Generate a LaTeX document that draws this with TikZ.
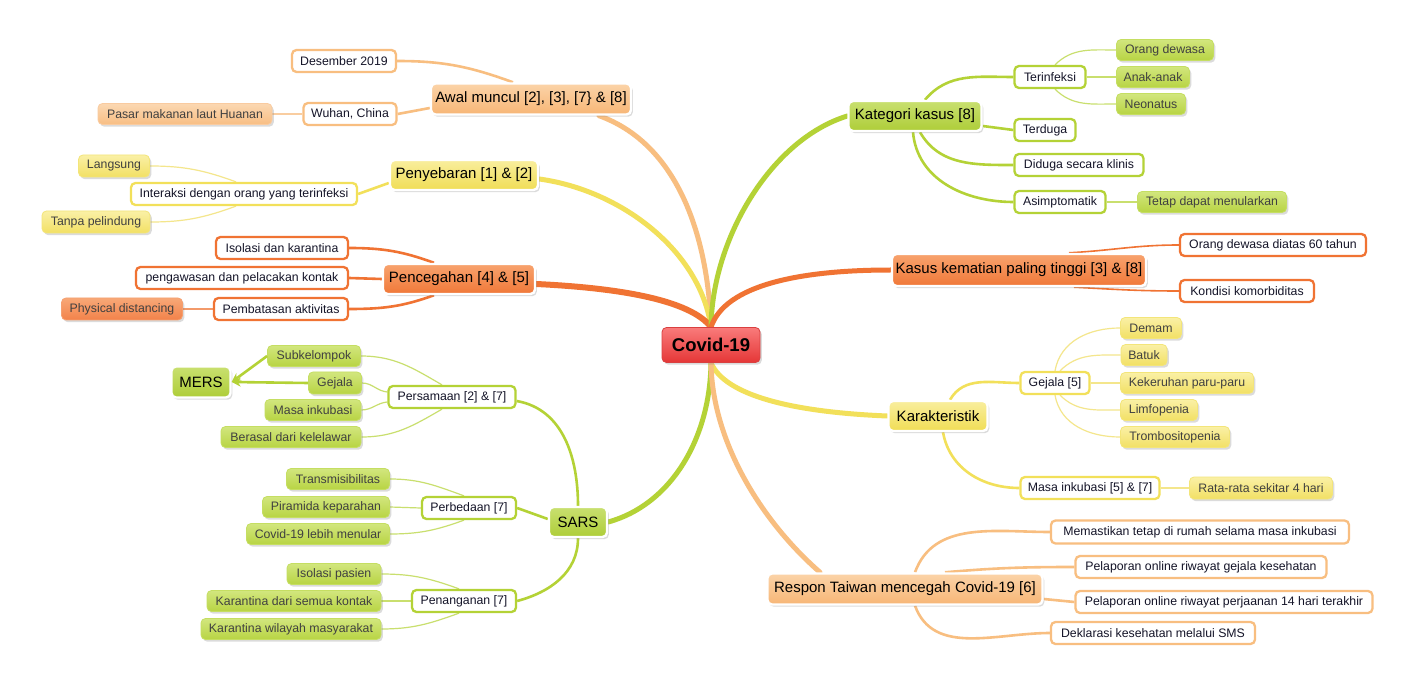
\documentclass[tikz,border=0pt]{standalone}
\usepackage{fontspec}
\setmainfont{Liberation Sans}
\usetikzlibrary{shadows,arrows.meta,calc}
\pgfdeclarelayer{back}
\pgfdeclarelayer{bg}
\pgfsetlayers{back,bg,main}
\definecolor{cG}{HTML}{B4D236}
\definecolor{cGl}{HTML}{C9DF6E}
\definecolor{cY}{HTML}{F2E05A}
\definecolor{cYl}{HTML}{F4E68C}
\definecolor{cO}{HTML}{F07333}
\definecolor{cOl}{HTML}{F39A6A}
\definecolor{cL}{HTML}{F8BE80}
\definecolor{cLl}{HTML}{F9CDA0}
\definecolor{txtA}{HTML}{141428}
\definecolor{txtB}{HTML}{404040}
\definecolor{gAt}{HTML}{C9E070}\definecolor{gAb}{HTML}{AECD38}
\definecolor{yAt}{HTML}{F9EE9E}\definecolor{yAb}{HTML}{F0DD55}
\definecolor{oAt}{HTML}{F8A36E}\definecolor{oAb}{HTML}{F07838}
\definecolor{lAt}{HTML}{FBD3A8}\definecolor{lAb}{HTML}{F7B676}
\definecolor{rAt}{HTML}{F97B7B}\definecolor{rAb}{HTML}{E53636}\definecolor{rAd}{HTML}{D94040}
\definecolor{gCt}{HTML}{D2E67E}\definecolor{gCb}{HTML}{B8D443}\definecolor{gCd}{HTML}{C5DE62}
\definecolor{yCt}{HTML}{FAF0A6}\definecolor{yCb}{HTML}{F2E064}\definecolor{yCd}{HTML}{F3E57A}
\definecolor{oCt}{HTML}{F8A877}\definecolor{oCb}{HTML}{F2824A}\definecolor{oCd}{HTML}{F5A070}
\definecolor{lCt}{HTML}{FBD8B2}\definecolor{lCb}{HTML}{F8BE84}\definecolor{lCd}{HTML}{F9CBA0}
\tikzset{
  box/.style={rounded corners=4.5pt, inner sep=0pt, align=center},
  shd/.style={drop shadow={opacity=0.28, shadow xshift=1.8pt, shadow yshift=-2.2pt}},
  L1/.style={box, shd, draw=white, line width=2.4pt, text=black, font=\fontsize{15}{17}\selectfont},
  L2/.style={box, fill=white, draw=#1, line width=2.3pt, text=txtA, font=\fontsize{12.3}{14}\selectfont},
  L3/.style={box, shd, line width=0.8pt, text=txtB, font=\fontsize{12.3}{14}\selectfont},
  gA/.style={L1, top color=gAt, bottom color=gAb},
  yA/.style={L1, top color=yAt, bottom color=yAb},
  oA/.style={L1, top color=oAt, bottom color=oAb},
  lA/.style={L1, top color=lAt, bottom color=lAb},
  gC/.style={L3, top color=gCt, bottom color=gCb, draw=gCd},
  yC/.style={L3, top color=yCt, bottom color=yCb, draw=yCd},
  oC/.style={L3, top color=oCt, bottom color=oCb, draw=oCd},
  lC/.style={L3, top color=lCt, bottom color=lCb, draw=lCd},
  mainln/.style={line width=5pt, line cap=round},
  subln/.style={line width=2.6pt},
  leafln/.style={line width=1.2pt},
  sz/.style 2 args={minimum width=#1pt, minimum height=#2pt},
}
\begin{document}
\begin{tikzpicture}[x=1pt,y=-1pt]
\begin{pgfonlayer}{back}
\fill[white] (0,0) rectangle (1411,684);
\end{pgfonlayer}
\useasboundingbox (0,0) rectangle (1411,684);
% center
\node[box, shd, top color=rAt, bottom color=rAb, draw=rAd, line width=0.8pt, sz={98}{35}, font=\fontsize{18.5}{20}\bfseries] (covid) at (711,345) {Covid-19};
% level 1
\node[lA, sz={200}{31}] (awal) at (531,99) {Awal muncul [2], [3], [7\} \& [8]};
\node[yA, sz={148}{30}] (peny) at (464,175) {Penyebaran [1] \& [2]};
\node[oA, sz={152}{30}] (penc) at (459,279) {Pencegahan [4] \& [5]};
\node[gA, sz={59}{31}] (mers) at (201,382) {MERS};
\node[gA, sz={58}{30}] (sars) at (578,522) {SARS};
\node[gA, sz={133}{30}] (kat) at (915,116) {Kategori kasus [8]};
\node[oA, sz={254}{32}] (kasus) at (1019,270) {Kasus kematian paling tinggi [3] \& [8]};
\node[yA, sz={99}{30}] (karak) at (938,416) {Karakteristik};
\node[lA, sz={275}{31}] (respon) at (905,589) {Respon Taiwan mencegah Covid-19 [6]};
% level 2
\node[L2=cL, sz={104}{22}] (des) at (344,61) {Desember 2019};
\node[L2=cL, sz={93}{22}] (wuh) at (350,114) {Wuhan, China};
\node[L2=cY, sz={226}{22}] (inter) at (244,194) {Interaksi dengan orang yang terinfeksi};
\node[L2=cO, sz={132}{22}] (iso) at (282,248) {Isolasi dan karantina};
\node[L2=cO, sz={212}{22}] (pgw) at (242,278) {pengawasan dan pelacakan kontak};
\node[L2=cO, sz={134}{22}] (pmb) at (281,309) {Pembatasan aktivitas};
\node[L2=cG, sz={127}{22}] (psm) at (452,397) {Persamaan [2] \& [7]};
\node[L2=cG, sz={94}{22}] (pbd) at (469,508) {Perbedaan [7]};
\node[L2=cG, sz={104}{22}] (png) at (464,601) {Penanganan [7]};
\node[L2=cG, sz={71}{22}] (terinf) at (1050,77) {Terinfeksi};
\node[L2=cG, sz={61}{22}] (terd) at (1045,130) {Terduga};
\node[L2=cG, sz={129}{22}] (didu) at (1079,165) {Diduga secara klinis};
\node[L2=cG, sz={91}{22}] (asim) at (1060,202) {Asimptomatik};
\node[L2=cO, sz={186}{22}] (od60) at (1273,245) {Orang dewasa diatas 60 tahun};
\node[L2=cO, sz={134}{22}] (komor) at (1247,291) {Kondisi komorbiditas};
\node[L2=cY, sz={69}{22}] (gej5) at (1055,383) {Gejala [5]};
\node[L2=cY, sz={139}{22}] (masa57) at (1090,488) {Masa inkubasi [5] \& [7]};
\node[L2=cL, sz={298}{23}] (mem) at (1200,532) {Memastikan tetap di rumah selama masa inkubasi};
\node[L2=cL, sz={251}{22}] (pgej) at (1201,567) {Pelaporan online riwayat gejala kesehatan};
\node[L2=cL, sz={297}{22}] (pperj) at (1224,602) {Pelaporan online riwayat perjaanan 14 hari terakhir};
\node[L2=cL, sz={204}{22}] (dekl) at (1153,633) {Deklarasi kesehatan melalui SMS};
% level 3
\node[lC, sz={174}{21}] (pasar) at (185,114) {Pasar makanan laut Huanan};
\node[yC, sz={71}{22}] (lang) at (114,166) {Langsung};
\node[yC, sz={108}{22}] (tanpa) at (96,222) {Tanpa pelindung};
\node[oC, sz={121}{22}] (phys) at (122,309) {Physical distancing};
\node[gC, sz={93}{21}] (subk) at (314,356) {Subkelompok};
\node[gC, sz={53}{22}] (gejm) at (335,383) {Gejala};
\node[gC, sz={96}{21}] (masam) at (313,410) {Masa inkubasi};
\node[gC, sz={140}{21}] (beras) at (291,437) {Berasal dari kelelawar};
\node[gC, sz={103}{21}] (trans) at (338,479) {Transmisibilitas};
\node[gC, sz={127}{21}] (pira) at (326,507) {Piramida keparahan};
\node[gC, sz={143}{21}] (covm) at (318,534) {Covid-19 lebih menular};
\node[gC, sz={94}{21}] (isop) at (334,574) {Isolasi pasien};
\node[gC, sz={174}{21}] (kdsk) at (294,601) {Karantina dari semua kontak};
\node[gC, sz={180}{21}] (kwm) at (291,629) {Karantina wilayah masyarakat};
\node[gC, sz={97}{21}] (odw) at (1165,50) {Orang dewasa};
\node[gC, sz={73}{21}] (anak) at (1153,77) {Anak-anak};
\node[gC, sz={69}{21}] (neo) at (1151,104) {Neonatus};
\node[gC, sz={149}{21}] (tetap) at (1212,202) {Tetap dapat menularkan};
\node[yC, sz={61}{21}] (demam) at (1151,328) {Demam};
\node[yC, sz={46}{21}] (batuk) at (1144,355) {Batuk};
\node[yC, sz={133}{21}] (kek) at (1187,383) {Kekeruhan paru-paru};
\node[yC, sz={77}{21}] (limf) at (1159,410) {Limfopenia};
\node[yC, sz={109}{21}] (tromb) at (1175,437) {Trombositopenia};
\node[yC, sz={143}{22}] (rata) at (1261,488) {Rata-rata sekitar 4 hari};

\begin{pgfonlayer}{bg}
% main branches
\draw[mainln, cL] ([xshift=68pt]awal.south) .. controls (680,145) and (708,240) .. (covid.north);
\draw[mainln, cY] ([yshift=-4pt]peny.east) .. controls (620,190) and (700,250) .. (covid.north);
\draw[mainln, cO, line width=6pt] ([yshift=-5pt]penc.east) .. controls (620,288) and (690,300) .. (covid.north);
\draw[mainln, cG] (sars.east) .. controls (670,505) and (710,440) .. (covid.south);
\draw[mainln, cG] (kat.west) .. controls (770,140) and (712,240) .. (covid.north);
\draw[mainln, cO] (kasus.west) .. controls (800,270) and (725,285) .. (covid.north);
\draw[mainln, cY] (karak.west) .. controls (790,412) and (725,395) .. (covid.south);
\draw[mainln, cL] ([xshift=-85pt]respon.north) .. controls (760,520) and (712,440) .. (covid.south);
% awal
\draw[subln, cL] (des.east) to[out=0,in=160] ([xshift=-18pt]awal.north);
\draw[subln, cL] (wuh.east) -- ([yshift=-9pt]awal.west);
\draw[leafln, cLl] (pasar.east) -- (wuh.west);
% penyebaran
\draw[subln, cY] (inter.east) -- ([yshift=-8pt]peny.west);
\draw[leafln, cYl] (lang.east) to[out=0,in=160] ([xshift=-8pt]inter.north);
\draw[leafln, cYl] (tanpa.east) to[out=0,in=200] ([xshift=-8pt]inter.south);
% pencegahan
\draw[subln, cO] (iso.east) to[out=0,in=160] ([xshift=-25pt]penc.north);
\draw[subln, cO] (pgw.east) -- (penc.west);
\draw[subln, cO] (pmb.east) to[out=0,in=200] ([xshift=-25pt]penc.south);
\draw[leafln, cOl] (phys.east) -- (pmb.west);
% sars
\draw[subln, cG] ([yshift=-4pt]psm.east) to[out=-10,in=90] (sars.north);
\draw[subln, cG] (pbd.east) -- ([yshift=3pt]sars.west);
\draw[subln, cG] (png.east) to[out=15,in=-90] (sars.south);
\draw[leafln, cGl] (subk.east) to[out=0,in=150] ([xshift=-10pt]psm.north);
\draw[leafln, cGl] (gejm.east) to[out=0,in=175] ([yshift=5pt]psm.west);
\draw[leafln, cGl] (masam.east) to[out=0,in=185] ([yshift=-5pt]psm.west);
\draw[leafln, cGl] (beras.east) to[out=0,in=210] ([xshift=-10pt]psm.south);
\draw[leafln, cGl] (trans.east) to[out=0,in=160] ([xshift=-5pt]pbd.north);
\draw[leafln, cGl] (pira.east) -- (pbd.west);
\draw[leafln, cGl] (covm.east) to[out=0,in=200] ([xshift=-5pt]pbd.south);
\draw[leafln, cGl] (isop.east) to[out=0,in=160] ([xshift=-5pt]png.north);
\draw[leafln, cGl] (kdsk.east) -- (png.west);
\draw[leafln, cGl] (kwm.east) to[out=0,in=200] ([xshift=-5pt]png.south);
% kategori
\draw[subln, cG] ([xshift=10pt]kat.north) to[out=50,in=180] (terinf.west);
\draw[subln, cG] ([yshift=-10pt]kat.east) -- (terd.west);
\draw[subln, cG] ([xshift=5pt]kat.south) to[out=-60,in=180] (didu.west);
\draw[subln, cG] ([xshift=-2pt]kat.south) to[out=-85,in=180] (asim.west);
\draw[leafln, cGl] ([xshift=5pt]terinf.north) to[out=45,in=180] (odw.west);
\draw[leafln, cGl] (terinf.east) -- (anak.west);
\draw[leafln, cGl] ([xshift=5pt]terinf.south) to[out=-45,in=180] (neo.west);
\draw[leafln, cGl] (asim.east) -- (tetap.west);
% kasus
\draw[line width=1.6pt, cO] ([xshift=50pt]kasus.north) to[out=3,in=180] (od60.west);
\draw[line width=1.6pt, cO] ([xshift=55pt]kasus.south) to[out=-3,in=180] (komor.west);
% karakteristik
\draw[subln, cY] ([xshift=12pt]karak.north) to[out=60,in=180] (gej5.west);
\draw[subln, cY] ([xshift=5pt]karak.south) to[out=-80,in=180] (masa57.west);
\draw[leafln, cYl] (gej5.north) to[out=80,in=180] (demam.west);
\draw[leafln, cYl] ([xshift=5pt]gej5.north) to[out=45,in=180] (batuk.west);
\draw[leafln, cYl] (gej5.east) -- (kek.west);
\draw[leafln, cYl] ([xshift=5pt]gej5.south) to[out=-45,in=180] (limf.west);
\draw[leafln, cYl] (gej5.south) to[out=-80,in=180] (tromb.west);
\draw[leafln, cYl] (masa57.east) -- (rata.west);
% respon
\draw[subln, cL] ([xshift=10pt]respon.north) to[out=70,in=180] (mem.west);
\draw[subln, cL] ([xshift=40pt]respon.north) to[out=5,in=180] (pgej.west);
\draw[subln, cL] ([yshift=-10pt]respon.east) -- (pperj.west);
\draw[subln, cL] ([xshift=10pt]respon.south) to[out=-70,in=180] (dekl.west);
\end{pgfonlayer}
% MERS arrows
\draw[subln, cG, -{Stealth[length=9pt,width=9pt]}] (subk.west) -- (mers.east);
\draw[subln, cG, -{Stealth[length=9pt,width=9pt]}] (gejm.west) -- (mers.east);
\end{tikzpicture}
\end{document}
